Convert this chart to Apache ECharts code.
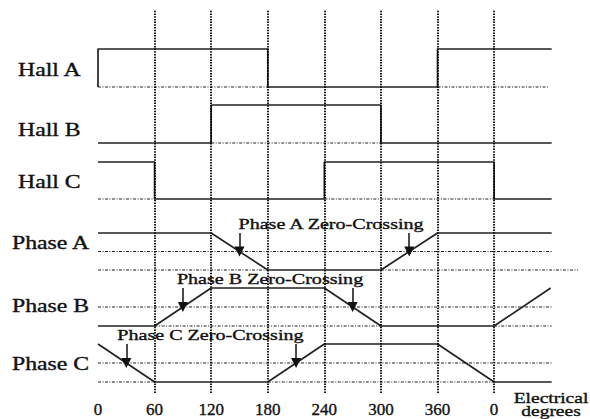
<!DOCTYPE html>
<html><head><meta charset="utf-8">
<script src="https://cdn.jsdelivr.net/npm/echarts@6/dist/echarts.min.js"></script>
<style>html,body{margin:0;padding:0;background:#fff}#c{width:590px;height:419px}</style>
</head><body><div id="c"></div>
<script>
// ---------------- data ----------------
const tickValues = [0, 60, 120, 180, 240, 300, 360, 420];
const tickLabels = ['0', '60', '120', '180', '240', '300', '360', '0'];
const gridLines = [60, 120, 180, 240, 300, 360, 420];
const rowNames = ['Hall A', 'Hall B', 'Hall C', 'Phase A', 'Phase B', 'Phase C'];
const axisNameLines = ['Electrical', 'degrees'];

// signal waveforms [electrical degree, level]
const hallA = [[0, 0], [0, 1], [180, 1], [180, 0], [360, 0], [360, 1], [481, 1]];
const hallB = [[0, 0], [120, 0], [120, 1], [300, 1], [300, 0], [481, 0]];
const hallC = [[0, 1], [60, 1], [60, 0], [240, 0], [240, 1], [420, 1], [420, 0], [481, 0]];
const phaseA = [[0, 1], [120, 1], [180, -1], [300, -1], [360, 1], [481, 1]];
const phaseB = [[0, -1], [60, -1], [120, 1], [240, 1], [300, -1], [420, -1], [480, 1]];
const phaseC = [[0, 1], [60, -1], [180, -1], [240, 1], [360, 1], [420, -1], [481, -1]];

// dash-dot reference spans [from, to] (baseline level)
const hallARef = [[0, 180], [360, 478]];
const hallBRef = [[120, 300]];
const hallCRef = [[0, 60], [240, 420]];
const phaseARef = [[0, 180], [300, 509]];
const phaseBRef = [[60, 300], [420, 481]];
const phaseCRef = [[0, 60], [180, 420]];
const phaseMidRef = [[0, 481]];

// zero crossings (degrees)
const zeroCrossA = [150, 330];
const zeroCrossB = [90, 270];
const zeroCrossC = [30, 210];
const zeroCrossLabels = ['Phase A Zero-Crossing', 'Phase B Zero-Crossing', 'Phase C Zero-Crossing'];

// ---------------- layout / style ----------------
const X_LEFT = 98, X_WIDTH = 481, X_MAX = 510;
const rows = [
  { top: 49, h: 38, min: 0, max: 1 },
  { top: 105, h: 38, min: 0, max: 1 },
  { top: 162, h: 37, min: 0, max: 1 },
  { top: 233, h: 37, min: -1, max: 1 },
  { top: 288, h: 38, min: -1, max: 1 },
  { top: 344, h: 38, min: -1, max: 1 }
];
const rowLabelPos = [[18, 70], [18, 130], [18, 182], [12, 243], [12, 306], [12, 364]];
const zcLabelDx = [1, 6, 9];
const FONT = 'Liberation Serif';
const INK = '#111';
const SOLID = { color: '#222', width: 1.7, type: 'solid' };
const DASHDOT = { color: '#222', width: 1.1, type: [3, 1.5, 1, 1.5] };

const signals = [hallA, hallB, hallC, phaseA, phaseB, phaseC];
const refs = [hallARef, hallBRef, hallCRef, phaseARef, phaseBRef, phaseCRef];
const crossings = [null, null, null, zeroCrossA, zeroCrossB, zeroCrossC];

const grids = [], xAxes = [], yAxes = [], series = [];
rows.forEach((r, i) => {
  grids.push({ left: X_LEFT, width: X_WIDTH, top: r.top, height: r.h });
  xAxes.push({ gridIndex: i, type: 'value', min: 0, max: X_MAX, show: false });
  yAxes.push({ gridIndex: i, type: 'value', min: r.min, max: r.max, show: false });
  const base = r.min;
  refs[i].forEach(span => {
    series.push({ type: 'line', xAxisIndex: i, yAxisIndex: i, symbol: 'none', clip: false, silent: true,
      lineStyle: DASHDOT, data: [[span[0], base], [span[1], base]] });
  });
  if (r.min < 0) {
    phaseMidRef.forEach(span => {
      series.push({ type: 'line', xAxisIndex: i, yAxisIndex: i, symbol: 'none', clip: false, silent: true,
        lineStyle: DASHDOT, data: [[span[0], 0], [span[1], 0]] });
    });
  }
  const s = { type: 'line', xAxisIndex: i, yAxisIndex: i, symbol: 'none', clip: false, silent: true,
    lineStyle: SOLID, data: signals[i] };
  if (crossings[i]) {
    s.markLine = {
      silent: true, animation: false, symbol: ['none', 'triangle'], symbolSize: 10,
      label: { show: false }, lineStyle: { color: '#111', width: 1.5, type: 'solid' },
      itemStyle: { color: '#111' },
      data: crossings[i].map(x => [{ coord: [x, r.max] }, { coord: [x, 0] }])
    };
  }
  series.push(s);
});
// full-height grid: vertical dotted guides and degree labels
const gi = rows.length;
grids.push({ left: X_LEFT, width: X_WIDTH, top: 10, bottom: 26 });
xAxes.push({ gridIndex: gi, type: 'value', min: 0, max: X_MAX, interval: 60,
  axisLine: { show: false }, axisTick: { show: false }, splitLine: { show: false },
  axisLabel: { margin: 8, fontFamily: FONT, fontSize: 17, color: INK, textBorderColor: INK, textBorderWidth: 0.35,
    formatter: v => { const k = tickValues.indexOf(v); return k < 0 ? '' : tickLabels[k]; } } });
yAxes.push({ gridIndex: gi, type: 'value', min: 0, max: 1, show: false });
series.push({ type: 'line', xAxisIndex: gi, yAxisIndex: gi, symbol: 'none', silent: true, data: [[0, 0]],
  lineStyle: { width: 0 },
  markLine: { silent: true, animation: false, symbol: 'none', label: { show: false },
    lineStyle: { color: '#000', width: 1.8, type: [1.5, 1.2] },
    data: gridLines.map(v => ({ xAxis: v })) } });

const chart = echarts.init(document.getElementById('c'), null, { renderer: 'svg' });
chart.setOption({ animation: false, grid: grids, xAxis: xAxes, yAxis: yAxes, series: series });

// text labels (stretched serif to match the reference)
const textStyle = (t, size, align) => ({ text: t, font: size + 'px "' + FONT + '"', fill: INK,
  stroke: INK, lineWidth: 0.35, textAlign: align, textVerticalAlign: 'middle' });
const graphics = [];
rowNames.forEach((t, i) => {
  graphics.push({ type: 'text', x: rowLabelPos[i][0], y: rowLabelPos[i][1], scaleX: 1.32, silent: true,
    style: textStyle(t, 18, 'left') });
});
[zeroCrossA, zeroCrossB, zeroCrossC].forEach((zc, k) => {
  const p = chart.convertToPixel({ gridIndex: 3 + k }, [zc[0], 1]);
  graphics.push({ type: 'text', x: p[0] - zcLabelDx[k], y: p[1] - 9, scaleX: 1.34, silent: true,
    style: textStyle(zeroCrossLabels[k], 15, 'left') });
});
axisNameLines.forEach((t, k) => {
  graphics.push({ type: 'text', x: 551, y: 398 + k * 13, scaleX: 1.3, silent: true,
    style: textStyle(t, 15, 'center') });
});
chart.setOption({ graphic: graphics });
</script>
</body></html>
